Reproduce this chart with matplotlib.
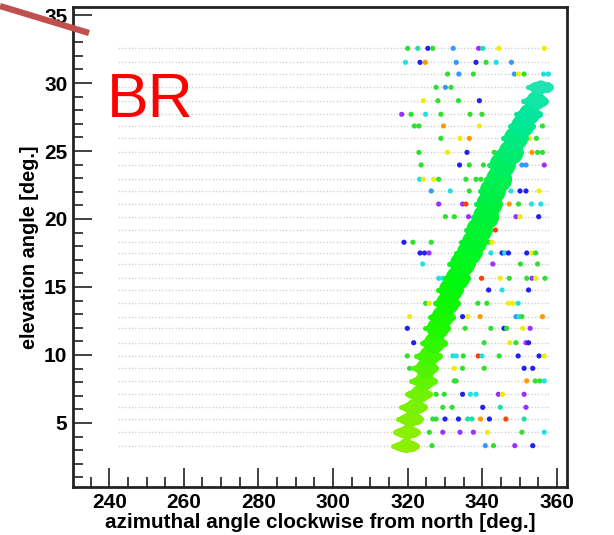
import numpy as np
import matplotlib
matplotlib.use("Agg")
import matplotlib.pyplot as plt
from matplotlib.lines import Line2D

plt.rcParams["font.family"] = ["Liberation Sans", "DejaVu Sans"]

# elevation of each scan row [deg]
row_el = [32.55, 31.52, 30.66, 29.68, 28.70, 27.70, 26.84, 25.93, 24.90, 23.97,
          22.92, 22.06, 21.10, 20.17, 19.19, 18.29, 17.50, 16.69, 15.64, 14.78,
          13.80, 12.82, 11.96, 10.90, 9.93, 9.02, 8.09, 7.11, 6.15, 5.29, 4.32, 3.33]
# azimuth sampling of the scan grid
grid_az = np.arange(242.5, 358.0, 0.9)

# main (sun track) band: centre azimuth per row, marker diameter [px], colour
band_el = [3.33, 4.32, 5.29, 6.15, 7.11, 8.09, 9.02, 9.93, 10.90, 11.96, 12.82,
           13.80, 14.78, 15.64, 16.69, 17.50, 18.29, 19.19, 20.17, 21.10, 22.06,
           22.92, 23.97, 24.90, 25.93, 26.84, 27.70, 28.70, 29.68]
band_az = [319.6, 320.0, 320.9, 321.8, 323.2, 324.5, 324.9, 325.8, 327.2, 328.1, 329.4,
           330.7, 331.6, 333.4, 334.7, 336.5, 337.9, 339.2, 341.0, 341.9, 342.8,
           344.5, 345.4, 347.7, 349.0, 350.8, 352.6, 354.4, 355.7]
band_px = [15, 15, 16, 17, 18, 19, 20, 20, 21, 22, 22,
           23, 24, 24, 25, 25, 25, 26, 26, 26, 26,
           26, 26, 25, 24, 23, 21, 19, 14]
band_col = ["#8cef00", "#88f000", "#80f000", "#78f200", "#70f200", "#60f400", "#50f400",
            "#40f600", "#30f600", "#20f800", "#18f800", "#10f800", "#08f808", "#00f810",
            "#00f818", "#00f820", "#00f428", "#00f430", "#00f038", "#00f040", "#00f048",
            "#00f050", "#00ee60", "#00ec70", "#00ea80", "#00e890", "#00e69a", "#10e6a6",
            "#20e4b0"]

# scattered coloured cells (azimuth, elevation, colour code), row by row
dot_az = [
    320.0, 322.7, 325.4, 326.7, 332.2, 339.0, 340.1, 344.4, 356.6,
    319.4, 323.3, 324.7, 333.0, 338.3, 341.0, 343.7, 347.8,
    330.7, 333.7, 337.6, 348.6, 349.7, 351.2, 356.4, 357.7,
    327.6, 330.1, 331.6, 354.3, 357.2,
    324.2, 328.1, 333.6, 339.2, 356.4,
    318.4, 320.9, 324.8, 328.9, 336.7, 339.9,
    321.8, 323.0, 329.6, 339.2, 356.1,
    328.9, 334.0, 336.5, 352.6, 354.5,
    323.0, 330.7, 335.9, 343.2, 353.3, 354.8, 356.1,
    323.6, 333.9, 336.5, 340.3, 350.6, 351.7, 356.6,
    323.2, 324.2, 327.0, 328.3, 335.6, 338.3, 339.6,
    326.3, 331.4, 336.5, 347.7, 350.1, 351.7, 355.2,
    328.3, 334.7, 335.6, 347.2, 349.7, 353.2, 355.7,
    330.1, 332.5, 336.3, 349.0, 350.1, 355.1,
    343.5,
    319.0, 321.4, 326.3, 341.7, 342.6,
    323.3, 324.5, 325.7, 342.3, 345.3, 346.0, 347.0, 351.9, 353.3, 354.3,
    324.0, 342.8, 350.2, 354.8,
    328.3, 329.4, 339.8, 344.8, 347.2, 351.9, 353.3, 354.3, 356.8,
    341.7, 345.3, 352.4,
    324.8, 325.8, 338.8, 341.2, 347.0, 348.1, 349.6,
    320.5, 334.7, 336.1, 339.4, 349.0, 349.9, 350.6, 356.1,
    319.9, 335.4, 342.3, 345.8, 346.5, 350.8, 352.8,
    321.6, 340.5, 347.4, 349.0, 351.7, 352.4,
    319.9, 332.1, 333.0, 334.9, 338.9, 339.9, 344.5, 349.6, 355.2, 356.6,
    320.5, 332.5, 334.7, 340.5, 351.2, 353.5,
    332.5, 333.0, 351.9, 354.2, 355.4, 356.6,
    327.6, 329.8, 334.7, 336.8, 338.3, 344.3, 345.4, 351.2,
    329.4, 331.9, 340.1, 344.8, 351.7,
    326.7, 327.6, 330.0, 333.6, 336.1, 337.2, 339.5, 341.9, 346.3, 351.2,
    325.8, 329.4, 334.0, 337.6, 341.4, 350.6, 356.6,
    326.5, 340.8, 343.0, 348.7, 353.5,
]
dot_rows = ["gtbglptyy", "cbolbgcl", "glglygcc", "glgyg", "yggby",
            "pgcggg", "ggoyg", "gyoyg", "gybgogg", "gbggllp",
            "cyygggg", "lcgcbby", "pprogcc", "ggppyb", "r",
            "bgggy", "bbpcbcbbyg", "cpgg", "ccryggpyg", "bcb",
            "gyggyyc", "ybyolcgo", "bggbgyp", "bgygpb", "gccgrcgbby",
            "gyggbb", "ggoggc", "ggbccpyp", "ggbtp", "ggbbttobrt",
            "gpppygc", "glgpb"]
dot_el = [el for el, codes in zip(row_el, dot_rows) for _ in codes]
dot_code = "".join(dot_rows)

palette = {
    "p": "#9b30ff", "b": "#2020f0", "l": "#3399ff", "c": "#20e0e0", "t": "#20e0a0",
    "g": "#30e030", "y": "#eeee00", "o": "#ff9900", "r": "#ff4000",
}

fig = plt.figure(figsize=(6.14, 5.35), dpi=100)
ax = fig.add_axes([0.1189, 0.0897, 0.8046, 0.8972])

# faint scan grid
gx, gy = np.meshgrid(grid_az, row_el)
ax.scatter(gx.ravel(), gy.ravel(), s=1.3, color="#d2d2d2", linewidths=0, zorder=1)

# coloured cells
ax.scatter(dot_az, dot_el, s=14, c=[palette[k] for k in dot_code],
           linewidths=0, zorder=2)

# band with small side spikes
spike_offsets = [-3.5, -2.5, -1.5, 1.5, 2.5]
spike_px = [5, 8, 11, 11, 7]
for az, el, d, col in zip(band_az, band_el, band_px, band_col):
    for off, sp in zip(spike_offsets, spike_px):
        ax.scatter(az + off, el, s=(0.72 * sp) ** 2, color=col, linewidths=0, zorder=3)
ax.scatter(band_az, band_el, s=[(0.72 * d) ** 2 for d in band_px], c=band_col,
           linewidths=0, zorder=4)

ax.set_xlim(230.3, 362.7)
ax.set_ylim(0.29, 35.59)
ax.set_xticks(range(240, 361, 20))
ax.set_xticks(range(235, 361, 5), minor=True)
ax.set_yticks(range(5, 36, 5))
ax.set_yticks(range(1, 36), minor=True)
ax.tick_params(which="both", direction="in", color="#333333", width=1.3)
ax.tick_params(which="major", length=14, labelsize=15, pad=4)
ax.tick_params(which="minor", length=7)
for lab in ax.get_xticklabels() + ax.get_yticklabels():
    lab.set_fontweight("bold")
for sp in ax.spines.values():
    sp.set_linewidth(2.0)
    sp.set_color("#222222")

ax.set_xlabel("azimuthal angle clockwise from north [deg.]", fontsize=14.9,
              fontweight="bold", labelpad=1)
ax.set_ylabel("elevation angle [deg.]", fontsize=14.3, fontweight="bold", labelpad=4)

fig.text(107 / 614, 1 - 117 / 535, "BR", color="#ff0000", fontsize=45,
         ha="left", va="baseline")
fig.add_artist(Line2D([0.0, 89 / 614], [1 - 6 / 535, 1 - 33 / 535],
                      transform=fig.transFigure, color="#c0504d", linewidth=4.5,
                      solid_capstyle="butt", zorder=10))

fig.savefig("out.png", dpi=100)
